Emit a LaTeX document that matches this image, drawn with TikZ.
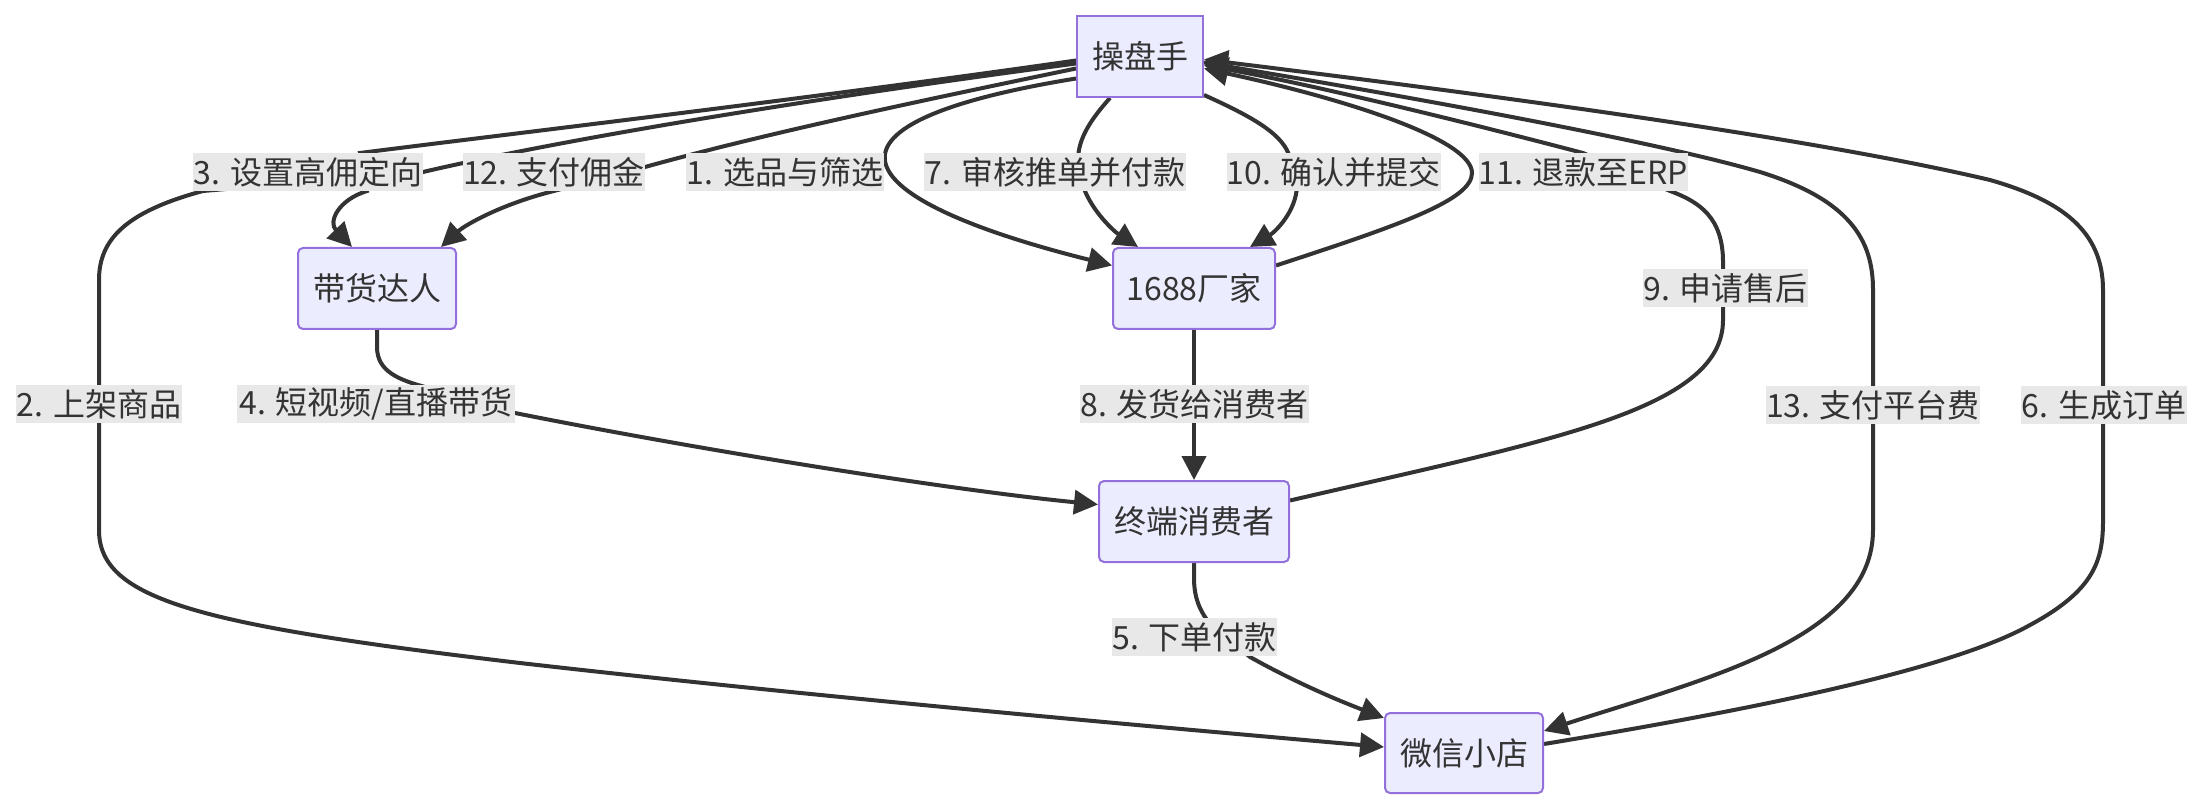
\documentclass[tikz,border=0pt]{standalone}
\usepackage{fontspec}
\setmainfont{Noto Sans CJK SC}
\usetikzlibrary{arrows.meta,calc}
\definecolor{nodefill}{HTML}{ECECFF}
\definecolor{nodeline}{HTML}{9370DB}
\definecolor{linkcol}{HTML}{333333}
\definecolor{lblbg}{HTML}{E8E8E8}
\definecolor{txt}{HTML}{333333}
\pgfdeclarelayer{back}
\pgfdeclarelayer{links}
\pgfsetlayers{back,links,main}
\begin{document}
\begin{tikzpicture}[x=0.5pt,y=-0.5pt,
  box/.style={draw=nodeline,fill=nodefill,line width=1pt,rounded corners=2.5pt,inner sep=0pt,text=txt,font=\fontsize{16pt}{19pt}\selectfont},
  sharpbox/.style={box,sharp corners},
  elabel/.style={fill=lblbg,inner sep=0pt,minimum height=19pt,text=txt,font=\fontsize{16pt}{19pt}\selectfont},
  link/.style={draw=linkcol,line width=2pt},
  arr/.style={link,-{Triangle[length=12pt,width=12pt]}}
]
\useasboundingbox (0,0) rectangle (2204,812);
\begin{pgfonlayer}{back}
\fill[white] (0,0) rectangle (2204,812);
\end{pgfonlayer}

% nodes
\node[sharpbox,minimum width=63pt,minimum height=40.5pt] (op) at (1140,56.5) {操盘手};
\node[box,minimum width=79pt,minimum height=40.5pt] (dr) at (377,288.5) {带货达人};
\node[box,minimum width=81pt,minimum height=40.5pt] (fac) at (1194,288.5) {1688厂家};
\node[box,minimum width=95pt,minimum height=40.5pt] (con) at (1194,521.5) {终端消费者};
\node[box,minimum width=79pt,minimum height=40pt] (shop) at (1464,753) {微信小店};

% edge labels
\node[elabel,minimum width=115pt] (l3) at (308,172) {3. 设置高佣定向};
\node[elabel,minimum width=91pt] (l12) at (554,172) {12. 支付佣金};
\node[elabel,minimum width=99pt] (l1) at (785,172) {1. 选品与筛选};
\node[elabel,minimum width=131pt] (l7) at (1055,172) {7. 审核推单并付款};
\node[elabel,minimum width=106.5pt] (l10) at (1333.5,172) {10. 确认并提交};
\node[elabel,minimum width=101.5pt] (l11) at (1583.5,172) {11. 退款至ERP};
\node[elabel,minimum width=82.5pt] (l9) at (1725.5,288.5) {9. 申请售后};
\node[elabel,minimum width=83pt] (l2) at (99,404) {2. 上架商品};
\node[elabel,minimum width=139pt] (l4) at (376,404) {4. 短视频/直播带货};
\node[elabel,minimum width=114.5pt] (l8) at (1194.5,404) {8. 发货给消费者};
\node[elabel,minimum width=107pt] (l13) at (1873,405) {13. 支付平台费};
\node[elabel,minimum width=83pt] (l6) at (2104,405) {6. 生成订单};
\node[elabel,minimum width=82.5pt] (l5) at (1194.5,637) {5. 下单付款};

\begin{pgfonlayer}{links}
% 3: op -> dr
\draw[arr] ($(op.west)+(0,4)$) .. controls (800,100) and (500,135) .. (360,153) -- (367,191)
  .. controls (338,200) and (328,222) .. ($(dr.north)+(-25,0)$);
% 2: op -> shop
\draw[arr] ($(op.west)+(0,7)$) .. controls (800,100) and (560,140) .. (423,172) -- (203,191)
  .. controls (125,212) and (99,240) .. (99,280) -- (99,530)
  .. controls (99,600) and (200,625) .. (520,663)
  .. controls (800,695) and (1100,722) .. ($(shop.west)+(0,-6)$);
% 12: op -> dr
\draw[arr] ($(op.west)+(0,12)$) .. controls (900,105) and (760,135) .. (645,167) -- (550,192)
  .. controls (500,205) and (465,225) .. ($(dr.north east)+(-16,0)$);
% 1: op -> fac
\draw[arr] ($(op.west)+(0,22)$) .. controls (790,125) and (850,200) .. ($(fac.west)+(0,-23)$);
% 7: op -> fac
\draw[arr] ($(op.south)+(-30,0)$) .. controls (1092,118) and (1078,138) .. (1078,160) -- (1083,186)
  .. controls (1092,212) and (1115,232) .. ($(fac.north)+(-56,0)$);
% 10: op -> fac
\draw[arr] ($(op.south east)+(0,-3)$) .. controls (1255,118) and (1284,135) .. (1290,158) -- (1297,186)
  .. controls (1296,212) and (1275,232) .. ($(fac.north)+(56,0)$);
% 11: fac -> op
\draw[arr] ($(fac.east)+(0,-23)$) .. controls (1400,225) and (1472,200) .. (1472,173)
  .. controls (1472,140) and (1350,100) .. ($(op.east)+(0,12)$);
% 9: con -> op
\draw[arr] ($(con.east)+(0,-21)$) .. controls (1550,440) and (1723,410) .. (1723,320) -- (1723,262)
  .. controls (1723,218) and (1700,202) .. (1670,191) -- (1583,153)
  .. controls (1450,118) and (1300,82) .. ($(op.east)+(0,9)$);
% 13: op -> shop
\draw[arr] ($(op.east)+(0,6)$) .. controls (1400,95) and (1650,140) .. (1760,172)
  .. controls (1850,200) and (1873,240) .. (1873,290) -- (1873,530)
  .. controls (1873,640) and (1700,680) .. ($(shop.east)+(0,-22)$);
% 6: shop -> op
\draw[arr] ($(shop.east)+(0,-9)$) .. controls (1750,710) and (1950,670) .. (2030,625)
  .. controls (2095,590) and (2103,560) .. (2103,520) -- (2103,290)
  .. controls (2103,230) and (2060,200) .. (1990,180)
  .. controls (1800,135) and (1450,90) .. ($(op.east)+(0,3)$);
% 4: dr -> con
\draw[arr] (dr.south) -- (377,347) .. controls (377,372) and (400,380) .. (425,387) -- (515,413)
  .. controls (700,450) and (950,490) .. ($(con.west)+(0,-17)$);
% 8: fac -> con
\draw[arr] (fac.south) -- (con.north);
% 5: con -> shop
\draw[arr] (con.south) -- (1194,578) .. controls (1194,598) and (1200,610) .. (1207,620) -- (1250,657)
  .. controls (1300,685) and (1345,703) .. ($(shop.north west)+(0,6)$);
\end{pgfonlayer}
\end{tikzpicture}
\end{document}
